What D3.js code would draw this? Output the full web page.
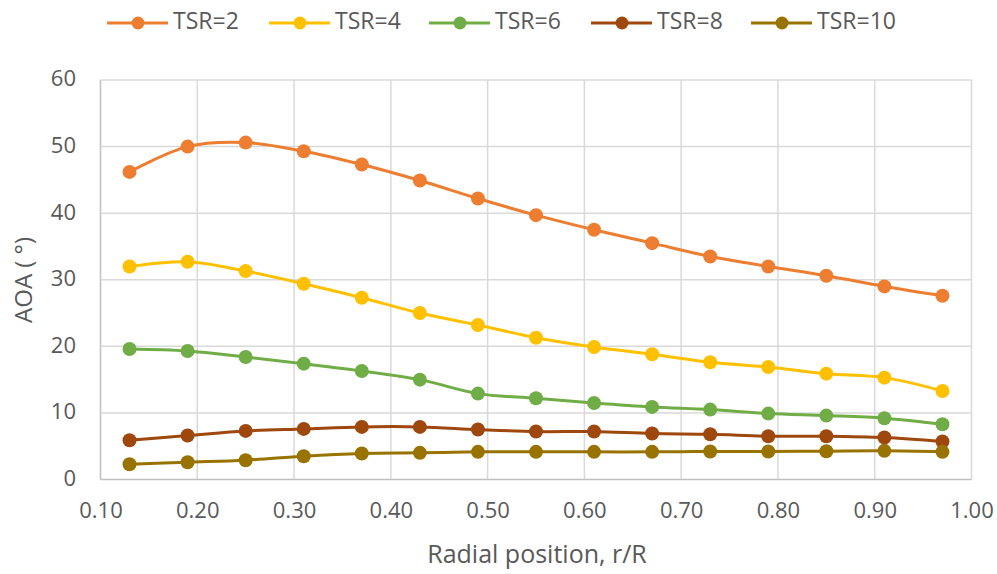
<!DOCTYPE html>
<html>
<head>
<meta charset="utf-8">
<script src="https://cdn.jsdelivr.net/npm/d3@7"></script>
<style>
html,body{margin:0;padding:0;background:#fff;}
svg{display:block;}
text{font-family:"Open Sans","Noto Sans",sans-serif;fill:#595959;}
</style>
</head>
<body>
<svg id="chart" width="997" height="574"></svg>
<script>
const radialPositions = [0.13,0.19,0.25,0.31,0.37,0.43,0.49,0.55,0.61,0.67,0.73,0.79,0.85,0.91,0.97];
const seriesNames = ["TSR=2","TSR=4","TSR=6","TSR=8","TSR=10"];
const tsr2  = [46.2,50.0,50.6,49.3,47.3,44.9,42.2,39.7,37.5,35.5,33.5,32.0,30.6,29.0,27.6];
const tsr4  = [32.0,32.7,31.3,29.4,27.3,25.0,23.2,21.3,19.9,18.8,17.6,16.9,15.9,15.3,13.3];
const tsr6  = [19.6,19.3,18.4,17.4,16.3,15.0,12.9,12.2,11.5,10.9,10.5,9.9,9.6,9.2,8.3];
const tsr8  = [5.9,6.6,7.3,7.6,7.9,7.9,7.5,7.2,7.2,6.9,6.8,6.5,6.5,6.3,5.7];
const tsr10 = [2.3,2.6,2.9,3.5,3.9,4.0,4.15,4.15,4.15,4.15,4.2,4.2,4.25,4.3,4.15];
const xTicks = [0.1,0.2,0.3,0.4,0.5,0.6,0.7,0.8,0.9,1.0];
const yTicks = [0,10,20,30,40,50,60];
const colors = ["#ED7D31","#FFC000","#70AD47","#9E480E","#997300"];

const allSeries = [tsr2,tsr4,tsr6,tsr8,tsr10];
const svg = d3.select("#chart");

const x = d3.scaleLinear().domain([0.1,1.0]).range([100.5,971.5]);
const y = d3.scaleLinear().domain([0,60]).range([479.5,80]);

// gridlines
const grid = svg.append("g");
grid.selectAll("line.v").data(xTicks).join("line")
  .attr("x1",d=>x(d)).attr("x2",d=>x(d)).attr("y1",y(0)).attr("y2",y(60))
  .attr("stroke",d=>d===0.1?"#bfbfbf":"#d9d9d9").attr("stroke-width",1.5);
grid.selectAll("line.h").data(yTicks).join("line")
  .attr("x1",x(0.1)).attr("x2",x(1.0)).attr("y1",d=>y(d)).attr("y2",d=>y(d))
  .attr("stroke",d=>d===0?"#bfbfbf":"#d9d9d9").attr("stroke-width",1.5);

// axes (labels only)
const xAxis = d3.axisBottom(x).tickValues(xTicks).tickFormat(d3.format(".2f")).tickSize(0).tickPadding(0);
const gx = svg.append("g").attr("transform",`translate(0,${y(0)})`).call(xAxis);
gx.select(".domain").remove();
gx.selectAll("text").attr("font-size",22).attr("dy",null).attr("y",33).attr("dominant-baseline","middle")
  .attr("font-family",null).style("fill","#595959");

const yAxis = d3.axisLeft(y).tickValues(yTicks).tickSize(0).tickPadding(0);
const gy = svg.append("g").attr("transform",`translate(76,0)`).call(yAxis);
gy.select(".domain").remove();
gy.selectAll("text").attr("font-size",22).attr("dy",null).attr("x",0).attr("dominant-baseline","middle")
  .attr("font-family",null).style("fill","#595959");

// axis titles
svg.append("text").attr("x",537).attr("y",556).attr("text-anchor","middle")
  .attr("dominant-baseline","middle").attr("font-size",25).text("Radial position, r/R");
svg.append("text").attr("transform","translate(26,280) rotate(-90)").attr("text-anchor","middle")
  .attr("dominant-baseline","middle").attr("font-size",24).text("AOA ( °)");

// series
const line = d3.line().x(d=>x(d[0])).y(d=>y(d[1])).curve(d3.curveCatmullRom.alpha(0.5));
allSeries.forEach((vals,i)=>{
  const pts = radialPositions.map((r,j)=>[r,vals[j]]);
  const g = svg.append("g");
  g.append("path").datum(pts).attr("d",line).attr("fill","none")
    .attr("stroke",colors[i]).attr("stroke-width",3).attr("stroke-linejoin","round");
  g.selectAll("circle").data(pts).join("circle")
    .attr("cx",d=>x(d[0])).attr("cy",d=>y(d[1])).attr("r",7).attr("fill",colors[i]);
});

// legend
const legendX = [107,269,429,591,751];
const lg = svg.append("g");
seriesNames.forEach((name,i)=>{
  const lx = legendX[i];
  lg.append("line").attr("x1",lx).attr("x2",lx+61).attr("y1",23).attr("y2",23)
    .attr("stroke",colors[i]).attr("stroke-width",3);
  lg.append("circle").attr("cx",lx+31).attr("cy",23).attr("r",6.5).attr("fill",colors[i]);
  lg.append("text").attr("x",lx+66).attr("y",23).attr("dominant-baseline","middle")
    .attr("font-size",23).text(name);
});
</script>
</body>
</html>
